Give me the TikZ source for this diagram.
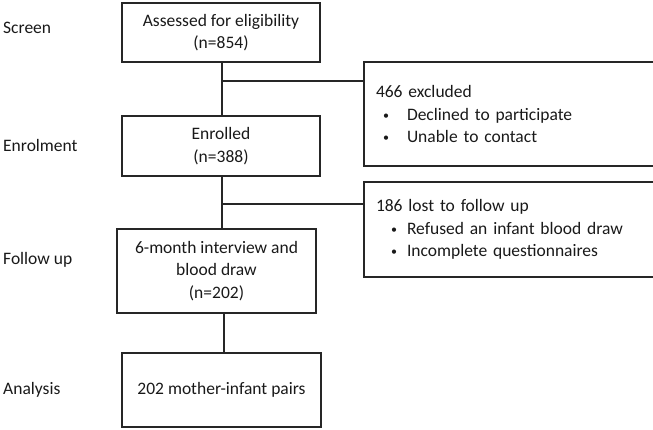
\documentclass[tikz,border=0pt]{standalone}
\usepackage{fontspec}
\setmainfont{Carlito}
\newcommand{\smallbul}{\raisebox{1pt}{\fontsize{12}{12}\selectfont\textbullet}}
\begin{document}
\begin{tikzpicture}[x=1pt,y=-1pt,
  every node/.style={font=\fontsize{17.5}{22.5}\selectfont, text=black!90},
  box/.style={draw=black!85, line width=1.5pt, align=center, inner sep=0pt},
  sidebox/.style={draw=black!85, line width=1.5pt, align=left, inner sep=0pt},
  stage/.style={anchor=west, inner sep=0pt},
  link/.style={draw=black!85, line width=1.5pt}]
\useasboundingbox (0,0) rectangle (653,430);

\node[box, minimum width=198pt, minimum height=59pt] (b1) at (221,32.5) {Assessed for eligibility\\(n=854)};
\node[box, minimum width=198pt, minimum height=60pt] (b2) at (221,146) {Enrolled\\(n=388)};
\node[box, minimum width=199pt, minimum height=84pt] (b3) at (216.5,271) {6-month interview and\\blood draw\\(n=202)};
\node[box, minimum width=199pt, minimum height=74pt] (b4) at (221.5,390) {202 mother-infant pairs};

\node[sidebox, minimum width=280pt, minimum height=104pt, text width=268pt, inner xsep=12pt] (r1) at (510,114)
  {466 excluded\\\makebox[31pt][l]{\hspace{7pt}\smallbul}Declined to participate\\\makebox[31pt][l]{\hspace{7pt}\smallbul}Unable to contact};
\node[sidebox, minimum width=279pt, minimum height=95pt, text width=267pt, inner xsep=12pt] (r2) at (509.5,229.5)
  {186 lost to follow up\\\makebox[31pt][l]{\hspace{15pt}\smallbul}Refused an infant blood draw\\\makebox[31pt][l]{\hspace{15pt}\smallbul}Incomplete questionnaires};

\node[stage] (s1) at (3,28) {Screen};
\node[stage] (s2) at (3,145) {Enrolment};
\node[stage] (s3) at (3,260) {Follow up};
\node[stage] (s4) at (3,390) {Analysis};

\coordinate (j1) at (222,81);
\coordinate (j2) at (222,204);
\draw[link] (b1.south -| j1) -- (b2.north -| j1);
\draw[link] (j1) -- (j1 -| r1.west);
\draw[link] (b2.south -| j2) -- (b3.north -| j2);
\draw[link] (j2) -- (j2 -| r2.west);
\draw[link] (b3.south -| 224,0) -- (b4.north -| 224,0);
\end{tikzpicture}
\end{document}
